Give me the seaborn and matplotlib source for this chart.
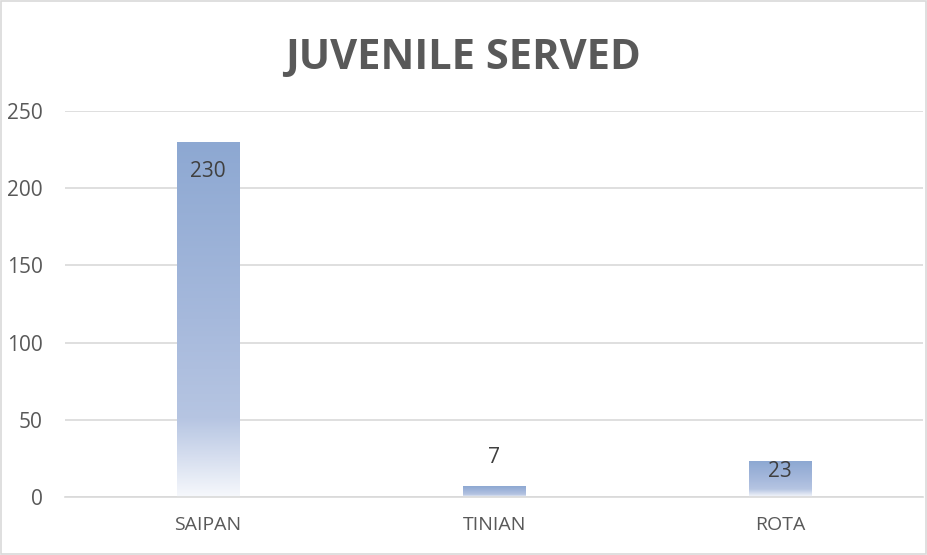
import numpy as np
import pandas as pd
import matplotlib
matplotlib.use("Agg")
import matplotlib.pyplot as plt
from matplotlib.colors import LinearSegmentedColormap
from matplotlib.patches import Rectangle
import seaborn as sns

categories = ["SAIPAN", "TINIAN", "ROTA"]
values = [230, 7, 23]
yticks = [0, 50, 100, 150, 200, 250]
title = "JUVENILE SERVED"

sns.set_theme(style="white")
plt.rcParams['font.family'] = ['Open Sans', 'DejaVu Sans']

fig = plt.figure(figsize=(9.28, 5.55), dpi=100)
ax = fig.add_axes([0.070, 0.1045, 0.925, 0.6955])

df = pd.DataFrame({"cat": categories, "val": values})
sns.barplot(data=df, x="cat", y="val", ax=ax, width=0.22, color="#8EA9D3",
            saturation=1, edgecolor="none")

ax.set_ylim(0, 250)
ax.set_xlim(-0.5, 2.5)
ax.set_yticks(yticks)
ax.yaxis.grid(True, color="#D9D9D9", linewidth=1.2)
ax.set_axisbelow(True)
for s in ["top", "right", "left"]:
    ax.spines[s].set_visible(False)
ax.spines["bottom"].set_color("#D9D9D9")
ax.spines["bottom"].set_linewidth(1.2)
ax.set_xlabel("")
ax.set_ylabel("")
ax.tick_params(axis="both", length=0, labelcolor="#595959")
ax.tick_params(axis="y", pad=16, labelsize=15)
ax.tick_params(axis="x", pad=14, labelsize=14)

cmap = LinearSegmentedColormap.from_list("g", [
    (0.0, "#F6F8FC"), (0.22, "#B6C5E2"), (0.5, "#A6B9DC"), (1.0, "#8DA8D2")])
grad = np.linspace(0, 1, 256).reshape(-1, 1)
for p in ax.patches:
    x0, y0 = p.get_x(), p.get_y()
    w, h = p.get_width(), p.get_height()
    im = ax.imshow(grad, cmap=cmap, origin="lower", aspect="auto",
                   extent=[x0, x0 + w, y0, y0 + h], zorder=p.get_zorder() + 0.1)
    im.set_clip_path(p)
ax.set_xlim(-0.5, 2.5)
ax.set_ylim(0, 250)

offsets = [-21, 21, -7]
for i, (p, v) in enumerate(zip(ax.patches, values)):
    ax.annotate(str(v), (p.get_x() + p.get_width() / 2, p.get_height()),
                xytext=(0, offsets[i]), textcoords="offset points",
                ha="center", va="center", fontsize=15, color="#404040", zorder=10)

fig.text(0.499, 0.895, title, ha="center", va="center", fontsize=30,
         fontweight="bold", color="#595959")

fig.patches.append(Rectangle((0.001, 0.001), 0.997, 0.997, transform=fig.transFigure,
                             fill=False, edgecolor="#D9D9D9", linewidth=1.2))

fig.savefig("out.png", dpi=100)
